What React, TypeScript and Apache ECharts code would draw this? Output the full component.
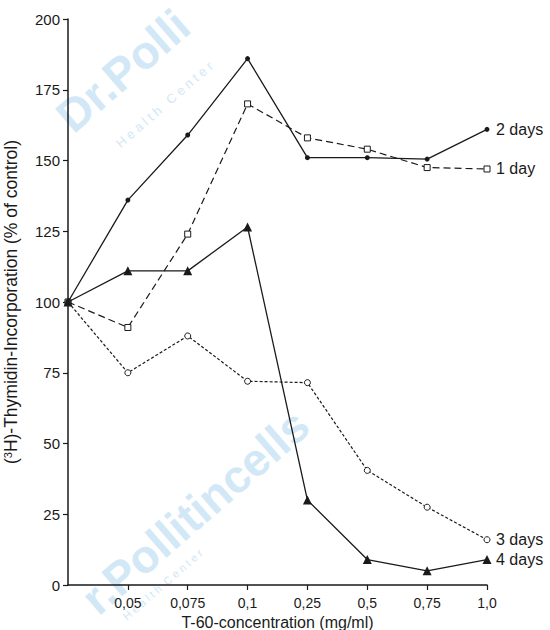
import React, { useEffect, useRef } from "react";
import * as echarts from "echarts";

// T-60 concentrations (mg/ml); the first slot is the untreated control at the axis origin
const concentrations = ["", "0,05", "0,075", "0,1", "0,25", "0,5", "0,75", "1,0"];

// (3H)-thymidine incorporation, % of control
const day1 = [100, 91, 124, 170, 158, 154, 147.5, 147];
const day2 = [100, 136, 159, 186, 151, 151, 150.5, 161];
const day3 = [100, 75, 88, 72, 71.5, 40.5, 27.5, 16];
const day4 = [100, 111, 111, 126.5, 30, 9, 5, 9];

const yTicks = { min: 0, max: 200, interval: 25 };

const FONT = "Liberation Sans, Arial, sans-serif";
const INK = "#1a1a1a";
const MARK = "#d2e8f6";
const ANGLE = (41 * Math.PI) / 180;

export default function App() {
  const ref = useRef<HTMLDivElement>(null);

  useEffect(() => {
    if (!ref.current) return;
    const chart = echarts.init(ref.current, null, { renderer: "svg" });

    const endLabel = {
      show: true,
      formatter: "{a}",
      distance: 9,
      fontFamily: FONT,
      fontSize: 16,
      color: INK,
    };

    const stamp = (x: number, y: number, text: string, size: number, bold: boolean) => ({
      type: "text",
      x,
      y,
      rotation: ANGLE,
      silent: true,
      z: -1,
      style: {
        text,
        fontFamily: FONT,
        fontWeight: bold ? "bold" : "normal",
        fontSize: size,
        fill: MARK,
        textAlign: "left",
        textVerticalAlign: "bottom",
      },
    });

    chart.setOption({
      animation: false,
      backgroundColor: "#ffffff",
      grid: {
        left: 68,
        right: 63,
        top: 19,
        bottom: 45,
        containLabel: false,
        outerBoundsMode: "none",
      },
      graphic: [
        stamp(78, 140, "Dr.Polli", 46, true),
        stamp(122, 150, "H e a l t h   C e n t e r", 13, false),
        stamp(103, 622, "r.Pollitincells", 46, true),
        stamp(128, 622, "H e a l t h  C e n t e r", 11, false),
      ],
      xAxis: {
        type: "category",
        data: concentrations,
        boundaryGap: false,
        name: "T-60-concentration (mg/ml)",
        nameLocation: "middle",
        nameGap: 26,
        nameTextStyle: { fontFamily: FONT, fontSize: 16, color: INK },
        axisLine: { lineStyle: { color: INK, width: 1.5 } },
        axisTick: {
          show: true,
          length: 5,
          interval: (i: number) => i > 0,
          lineStyle: { color: INK, width: 1.2 },
        },
        axisLabel: {
          fontFamily: FONT,
          fontSize: 14,
          color: INK,
          margin: 11,
          interval: 0,
        },
        splitLine: { show: false },
      },
      yAxis: {
        type: "value",
        min: yTicks.min,
        max: yTicks.max,
        interval: yTicks.interval,
        name: "({sup|3}H)-Thymidin-Incorporation (% of control)",
        nameLocation: "middle",
        nameGap: 48,
        nameTextStyle: {
          fontFamily: FONT,
          fontSize: 17.5,
          color: INK,
          rich: {
            sup: {
              fontFamily: FONT,
              fontSize: 11,
              color: INK,
              verticalAlign: "top",
              padding: [0, 0, 7, 0],
            },
          },
        },
        axisLine: { show: true, lineStyle: { color: INK, width: 1.5 } },
        axisTick: { show: true, length: 5, lineStyle: { color: INK, width: 1.2 } },
        axisLabel: { fontFamily: FONT, fontSize: 15, color: INK, margin: 8 },
        splitLine: { show: false },
      },
      series: [
        {
          name: "2 days",
          type: "line",
          data: day2,
          symbol: "circle",
          symbolSize: 5,
          itemStyle: { color: INK },
          lineStyle: { color: INK, width: 1.3, type: "solid" },
          endLabel,
          z: 4,
        },
        {
          name: "1 day",
          type: "line",
          data: day1,
          symbol: "rect",
          symbolSize: 6,
          itemStyle: { color: "#ffffff", borderColor: INK, borderWidth: 1 },
          lineStyle: { color: INK, width: 1.2, type: [7, 4] },
          endLabel,
          z: 3,
        },
        {
          name: "3 days",
          type: "line",
          data: day3,
          symbol: "circle",
          symbolSize: 6,
          itemStyle: { color: "#ffffff", borderColor: INK, borderWidth: 1 },
          lineStyle: { color: INK, width: 1.2, type: [3, 2] },
          endLabel,
          z: 3,
        },
        {
          name: "4 days",
          type: "line",
          data: day4,
          symbol: "triangle",
          symbolSize: 9,
          itemStyle: { color: INK },
          lineStyle: { color: INK, width: 1.3, type: "solid" },
          endLabel,
          z: 4,
        },
      ],
    });

    return () => chart.dispose();
  }, []);

  return (
    <div
      ref={ref}
      style={{ position: "absolute", left: 0, top: 0, width: 550, height: 630 }}
    />
  );
}
